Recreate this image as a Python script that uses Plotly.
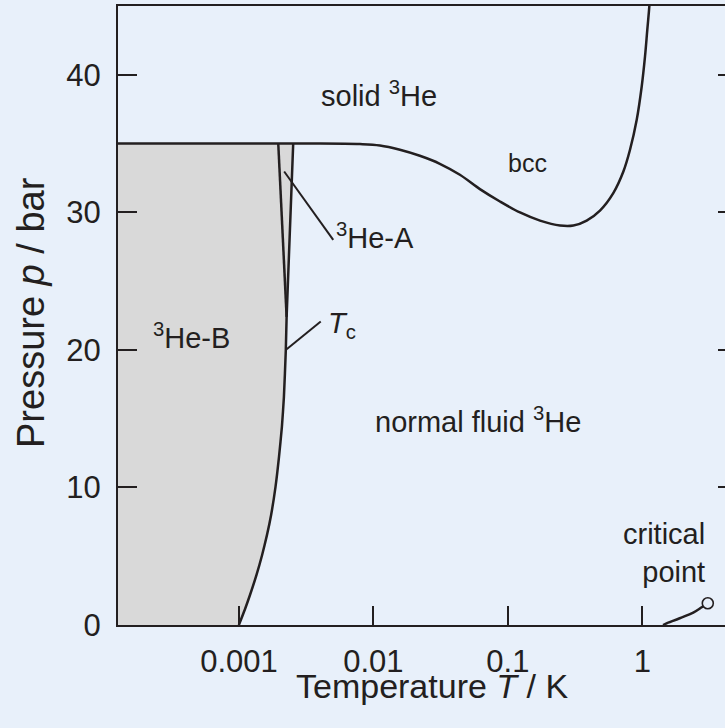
import plotly.graph_objects as go

# ---- data (T in K, p in bar) ----
tc_T = [0.000998, 0.0011025, 0.0012071, 0.0013496, 0.0014858, 0.0016155, 0.0017334, 0.0018688,
        0.0019839, 0.0020851, 0.0021585, 0.0022297, 0.0022608, 0.0025309]
tc_p = [0.0, 1.09, 2.18, 3.64, 5.09, 6.55, 8.0, 10.04,
        12.22, 14.4, 16.58, 20.0, 22.4, 35.0]

ab_T = [0.0022608, 0.001959]
ab_p = [22.4, 35.0]

melt_T = [0.0001, 0.003, 0.007943, 0.01117, 0.01574, 0.02213, 0.03119, 0.04395, 0.06194,
          0.08730, 0.1230, 0.1734, 0.2443, 0.3069, 0.3855, 0.4842, 0.6081, 0.7228,
          0.8099, 0.9085, 0.9897, 1.0471, 1.0889, 1.1272, 1.14]
melt_p = [35.0, 35.0, 34.96, 34.86, 34.55, 34.11, 33.53, 32.73, 31.69,
          30.79, 29.99, 29.40, 29.04, 29.04, 29.40, 30.13, 31.40, 32.97,
          34.55, 36.73, 39.15, 41.33, 43.27, 44.97, 46.0]

lv_T = [1.426, 1.476, 1.897, 2.393, 2.767, 3.069]
lv_p = [0.0, 0.07, 0.49, 0.90, 1.29, 1.58]

crit_T = [3.069]
crit_p = [1.58]

leaderA_T = [0.002168, 0.005023]
leaderA_p = [32.97, 28.0]
leaderTc_T = [0.0022608, 0.004055]
leaderTc_p = [20.05, 22.06]

x_ticks = [0.001, 0.01, 0.1, 1]
x_ticktext = ["0.001", "0.01", "0.1", "1"]
y_ticks = [0, 10, 20, 30, 40]

T_left = 0.0001

INK = "#231f20"
BG = "#e8f0fa"
GRAY = "#d9d9d9"
FONT = "Liberation Sans, Arial, Helvetica, sans-serif"

fig = go.Figure()

# shaded superfluid region (B + A)
fill_x = [T_left] + tc_T + [T_left]
fill_y = [0.0] + tc_p + [35.0]
fig.add_trace(go.Scatter(x=fill_x, y=fill_y, mode="lines", fill="toself",
                         fillcolor=GRAY, line=dict(width=0), hoverinfo="skip"))

line_style = dict(color=INK, width=2.5)
fig.add_trace(go.Scatter(x=tc_T, y=tc_p, mode="lines", line=dict(shape="spline", smoothing=0.5, **line_style)))
fig.add_trace(go.Scatter(x=ab_T, y=ab_p, mode="lines", line=line_style))
fig.add_trace(go.Scatter(x=melt_T, y=melt_p, mode="lines", line=dict(shape="spline", smoothing=1.0, **line_style)))
fig.add_trace(go.Scatter(x=lv_T, y=lv_p, mode="lines", line=dict(shape="spline", **line_style)))
fig.add_trace(go.Scatter(x=crit_T, y=crit_p, mode="markers",
                         marker=dict(symbol="circle", size=11, color=BG, line=dict(color=INK, width=1.6))))
fig.add_trace(go.Scatter(x=leaderA_T, y=leaderA_p, mode="lines", line=dict(color=INK, width=2)))
fig.add_trace(go.Scatter(x=leaderTc_T, y=leaderTc_p, mode="lines", line=dict(color=INK, width=2)))

# invisible trace to activate right-side tick axis
fig.add_trace(go.Scatter(x=[1], y=[0], yaxis="y2", mode="markers", marker=dict(opacity=0), hoverinfo="skip"))

ann_font = dict(family=FONT, size=29, color=INK)
annotations = [
    dict(x=-1.955, y=38.6, text="solid <sup>3</sup>He", xanchor="center"),
    dict(x=-0.854, y=33.6, text="bcc", xanchor="center", font=dict(family=FONT, size=25, color=INK)),
    dict(x=-2.29, y=28.3, text="<sup>3</sup>He-A", xanchor="left"),
    dict(x=-3.655, y=21.0, text="<sup>3</sup>He-B", xanchor="left"),
    dict(x=-2.35, y=21.8, text="<i>T</i><sub>c</sub>", xanchor="left"),
    dict(x=-1.222, y=14.9, text="normal fluid <sup>3</sup>He", xanchor="center"),
    dict(x=0.484, y=5.2, text="critical<br>point", xanchor="right", align="right"),
]
for a in annotations:
    a.setdefault("font", ann_font)
    a.update(xref="x", yref="y", showarrow=False, yanchor="middle")

annotations.append(dict(xref="paper", yref="paper", x=(432 - 118) / 607, y=(625 - 686) / 619,
                        text="Temperature <i>T</i> / K", showarrow=False,
                        xanchor="center", yanchor="middle",
                        font=dict(family=FONT, size=34, color=INK)))
annotations.append(dict(xref="paper", yref="paper", x=(31 - 118) / 607, y=(625 - 313) / 619,
                        text="Pressure <i>p</i> / bar", showarrow=False, textangle=-90,
                        xanchor="center", yanchor="middle",
                        font=dict(family=FONT, size=38, color=INK)))

fig.update_layout(
    width=725, height=728,
    margin=dict(l=118, r=0, t=6, b=103),
    paper_bgcolor=BG, plot_bgcolor=BG,
    showlegend=False,
    font=dict(family=FONT, size=30, color=INK),
    annotations=annotations,
    xaxis=dict(type="log", range=[-3.9, 0.615], tickvals=x_ticks, ticktext=x_ticktext,
               ticks="inside", ticklen=19, tickwidth=1.5, tickcolor=INK,
               showline=True, linewidth=2, linecolor=INK, mirror=True,
               showgrid=False, zeroline=False, ticklabelstandoff=8,
               tickfont=dict(family=FONT, size=31, color=INK)),
    yaxis=dict(range=[0, 45], tickvals=y_ticks,
               ticks="inside", ticklen=19, tickwidth=1.5, tickcolor=INK,
               showline=True, linewidth=2, linecolor=INK, mirror=False,
               showgrid=False, zeroline=False, ticklabelstandoff=9,
               tickfont=dict(family=FONT, size=31, color=INK)),
    yaxis2=dict(range=[0, 45], tickvals=y_ticks, overlaying="y", side="right", anchor="x",
                ticks="inside", ticklen=7, tickwidth=1.5, tickcolor=INK,
                showticklabels=False, showline=False, showgrid=False, zeroline=False),
)

fig.write_html("out.html")
